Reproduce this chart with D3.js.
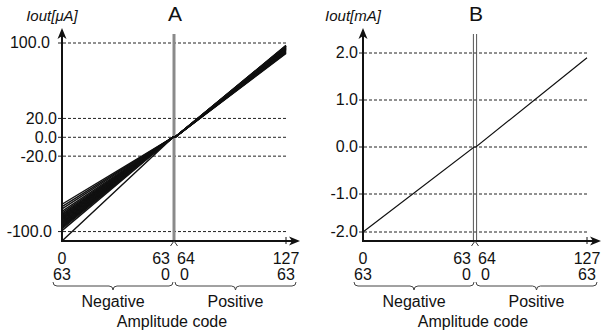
<!DOCTYPE html>
<html>
<head>
<meta charset="utf-8">
<script src="https://cdn.jsdelivr.net/npm/d3@7"></script>
<style>
  body { margin: 0; background: #fff; }
  svg { display: block; }
  text { font-family: "Liberation Sans", Arial, sans-serif; fill: #111; }
</style>
</head>
<body>
<div id="chart"></div>
<script>
// Amplitude code ticks (two label rows: absolute code / code within half)
const codeTicks = [0, 63, 64, 127];
const codeRow1 = ['0', '63', '64', '127'];
const codeRow2 = ['63', '0', '0', '63'];
const halfLabels = ['Negative', 'Positive'];

// Panel A: Iout in uA, many channels
const ticksA = [100, 20, 0, -20, -100];
const negEndsA = [-71, -73.5, -76, -78.5, -80.5, -82, -83, -84, -85, -86, -87, -88, -89, -90, -91, -92, -93, -94, -95, -96, -97, -99, -110];
const posEndsA = [89, 89.5, 90, 90.5, 91, 91.5, 92, 92.5, 93, 93.5, 94, 94, 94.5, 95, 95, 95.5, 96, 96, 96.5, 96.5, 97, 97, 97.5];

// Panel B: Iout in mA, single channel
const ticksB = [2, 1, 0, -1, -2];
const negEndB = -2.0;
const posEndB = 1.9;

const W = 604, H = 332;
const axisY = 241, topY = 28;
const FS = 16;

const svg = d3.select('#chart').append('svg')
  .attr('width', W).attr('height', H);
svg.append('rect').attr('width', W).attr('height', H).attr('fill', '#fff');

function drawPanel(p) {
  const g = svg.append('g');
  const x = d3.scaleLinear().domain([0, 127]).range([p.x0, p.x1]);
  const y = p.y;
  const xMid = x(63.5);

  // dashed gridlines
  g.selectAll('line.grid').data(p.ticks).enter().append('line')
    .attr('class', 'grid')
    .attr('x1', p.x0 - 4).attr('x2', p.x1)
    .attr('y1', d => y(d)).attr('y2', d => y(d))
    .attr('stroke', '#222').attr('stroke-width', 1)
    .attr('stroke-dasharray', '3,2');

  // y tick labels
  g.selectAll('text.ytick').data(p.ticks).enter().append('text')
    .attr('class', 'ytick')
    .attr('x', d => p.x0 - 5 - (p.nudge ? p.nudge(d) : 0))
    .attr('y', d => y(d))
    .attr('dy', '0.34em')
    .attr('text-anchor', 'end')
    .attr('font-size', FS)
    .text(d => d.toFixed(1));

  // centre divider
  if (p.divider === 'gray') {
    g.append('line')
      .attr('x1', xMid).attr('x2', xMid).attr('y1', 34).attr('y2', axisY)
      .attr('stroke', '#8a8a8a').attr('stroke-width', 3);
  } else {
    [-1.6, 1.6].forEach(o => g.append('line')
      .attr('x1', xMid + o).attr('x2', xMid + o).attr('y1', 34).attr('y2', axisY)
      .attr('stroke', '#555').attr('stroke-width', 1));
  }

  // transfer lines
  const line = d3.line().x(d => x(d[0])).y(d => y(d[1]));
  g.selectAll('path.series').data(p.series).enter().append('path')
    .attr('class', 'series')
    .attr('d', line)
    .attr('fill', 'none')
    .attr('stroke', '#111')
    .attr('stroke-width', p.lineWidth);

  // axes
  g.append('line').attr('x1', p.x0).attr('x2', p.x1 + 8)
    .attr('y1', axisY).attr('y2', axisY)
    .attr('stroke', '#111').attr('stroke-width', 2);
  g.append('path')
    .attr('d', `M${p.x1 + 14},${axisY} L${p.x1 + 3},${axisY - 4.5} L${p.x1 + 6},${axisY} L${p.x1 + 3},${axisY + 4.5} Z`)
    .attr('fill', '#111');
  g.append('line').attr('x1', p.x0).attr('x2', p.x0)
    .attr('y1', axisY + 1).attr('y2', topY + 6)
    .attr('stroke', '#111').attr('stroke-width', 2);
  g.append('path')
    .attr('d', `M${p.x0},${topY} L${p.x0 - 4.5},${topY + 11} L${p.x0},${topY + 8} L${p.x0 + 4.5},${topY + 11} Z`)
    .attr('fill', '#111');

  // tick at 127 and chevron at centre
  g.append('line').attr('x1', x(127)).attr('x2', x(127))
    .attr('y1', axisY - 4).attr('y2', axisY + 3)
    .attr('stroke', '#111').attr('stroke-width', 1);
  g.append('path')
    .attr('d', `M${xMid - 3.5},${axisY + 5} L${xMid},${axisY} L${xMid + 3.5},${axisY + 5}`)
    .attr('fill', 'none').attr('stroke', '#333').attr('stroke-width', 1);

  // x tick labels, two rows
  const anchor = i => (i === 1 ? 'end' : i === 2 ? 'start' : 'middle');
  const xpos = (d, i) => (i === 1 ? xMid - 4 : i === 2 ? xMid + 3 : x(d));
  g.selectAll('text.xr1').data(codeTicks).enter().append('text')
    .attr('x', xpos).attr('y', 264)
    .attr('text-anchor', (d, i) => anchor(i))
    .attr('font-size', FS)
    .text((d, i) => codeRow1[i]);
  g.selectAll('text.xr2').data(codeTicks).enter().append('text')
    .attr('x', (d, i) => (i === 2 ? xMid + 6 : xpos(d, i))).attr('y', 279.5)
    .attr('text-anchor', (d, i) => anchor(i))
    .attr('font-size', FS)
    .text((d, i) => codeRow2[i]);

  // braces under each half
  const brace = (a, b) => {
    const m = (a + b) / 2, y0 = 282, y1 = 286, y2 = 290, r = 4;
    return `M${a},${y0} Q${a},${y1} ${a + r},${y1} L${m - r},${y1} Q${m},${y1} ${m},${y2}` +
      ` Q${m},${y1} ${m + r},${y1} L${b - r},${y1} Q${b},${y1} ${b},${y0}`;
  };
  [[x(0) - 9, xMid - 1], [xMid + 1, x(127) + 10]].forEach((s, i) => {
    g.append('path').attr('d', brace(s[0], s[1]))
      .attr('fill', 'none').attr('stroke', '#444').attr('stroke-width', 1);
    g.append('text').attr('x', (s[0] + s[1]) / 2).attr('y', 307)
      .attr('text-anchor', 'middle').attr('font-size', FS)
      .text(halfLabels[i]);
  });
  g.append('text').attr('x', xMid - 2).attr('y', 327)
    .attr('text-anchor', 'middle').attr('font-size', FS)
    .text('Amplitude code');

  // titles
  g.append('text').attr('x', xMid + 1).attr('y', 21)
    .attr('text-anchor', 'middle').attr('font-size', 21)
    .text(p.title);
  g.append('text').attr('x', p.x0 - 10).attr('y', 21)
    .attr('text-anchor', 'middle').attr('font-size', 15)
    .attr('font-style', 'italic')
    .text(p.unit);
}

const yA = d3.scaleLinear().domain([-110, 100]).range([axisY, 43]);
drawPanel({
  title: 'A', unit: 'Iout[μA]',
  x0: 62, x1: 286, y: yA, ticks: ticksA,
  nudge: d => (d === 100 ? 7 : d === -100 ? 5 : 0),
  divider: 'gray', lineWidth: 1.4,
  series: negEndsA.map((v, i) => [[0, v], [63, 0], [64, 0], [127, posEndsA[i]]])
});

const yB = d3.scaleLinear().domain([-2.24, -2, -1, 2]).range([axisY, 232, 194, 53]);
drawPanel({
  title: 'B', unit: 'Iout[mA]',
  x0: 363, x1: 587, y: yB, ticks: ticksB,
  divider: 'double', lineWidth: 1.2,
  series: [[[0, negEndB], [63, 0], [64, 0], [127, posEndB]]]
});
</script>
</body>
</html>
